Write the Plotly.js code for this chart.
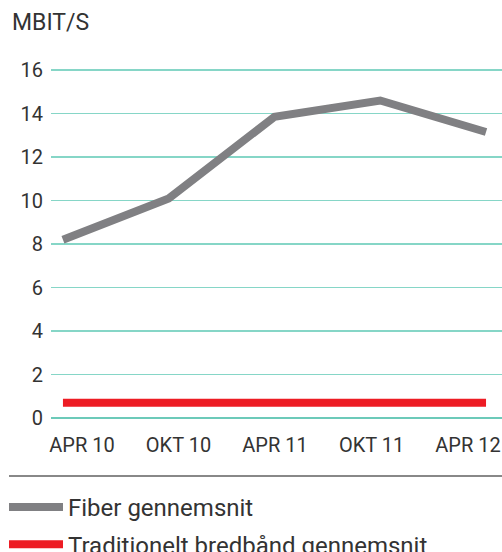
<!DOCTYPE html>
<html><head><meta charset="utf-8">
<script src="https://cdn.plot.ly/plotly-3.0.1.min.js"></script>
<style>html,body{margin:0;padding:0;background:#fff}#c{width:502px;height:552px}</style>
</head><body><div id="c"></div>
<script>
const periods = ["APR 10", "OKT 10", "APR 11", "OKT 11", "APR 12"];
const fiber = [8.2, 10.1, 13.85, 14.6, 13.15];
const traditionel = [0.7, 0.7, 0.7, 0.7, 0.7];
const yTicks = [0, 2, 4, 6, 8, 10, 12, 14, 16];
const seriesNames = ["Fiber gennemsnit", "Traditionelt bredbånd gennemsnit"];

const FONT = "Roboto, 'DejaVu Sans', sans-serif";
const TXT = "#333";
const data = [
  {x: periods, y: fiber, type: "scatter", mode: "lines", name: seriesNames[0], legendgroup: "a",
   line: {color: "#808083", width: 8}, xaxis: "x", yaxis: "y", hoverinfo: "skip"},
  {x: periods, y: traditionel, type: "scatter", mode: "lines", name: seriesNames[1], legendgroup: "b",
   line: {color: "#ED1C24", width: 8}, xaxis: "x", yaxis: "y", hoverinfo: "skip"},
  {x: periods, y: periods.map(() => null), type: "scatter", mode: "lines",
   showlegend: false, xaxis: "x2", yaxis: "y", hoverinfo: "skip"}
];
const layout = {
  width: 502, height: 552,
  margin: {l: 51, r: 0, t: 57, b: 134, autoexpand: false},
  paper_bgcolor: "#fff", plot_bgcolor: "#fff",
  font: {family: FONT, size: 20, color: TXT},
  title: {text: "MBIT/S", x: 12/502, xanchor: "left", xref: "container",
          y: 1 - 22/552, yanchor: "middle", yref: "container",
          font: {family: FONT, size: 23, color: TXT}},
  xaxis: {type: "category", range: [-0.113, 4.151], showticklabels: false,
          showgrid: false, zeroline: false, showline: false, ticks: ""},
  xaxis2: {type: "category", overlaying: "x", side: "bottom", range: [-0.321, 4.352],
           showgrid: false, zeroline: false, showline: false, ticks: "", tickangle: 0,
           ticklabelstandoff: 13,
           tickfont: {family: FONT, size: 20, color: TXT}},
  yaxis: {range: [0, 16.6], tickvals: yTicks, ticktext: yTicks.map(String),
          showgrid: true, gridcolor: "#86d6c7", gridwidth: 1.2,
          zeroline: true, zerolinecolor: "#6ccab9", zerolinewidth: 1.5,
          ticks: "", ticklabelstandoff: 7, showline: false,
          tickfont: {family: FONT, size: 20, color: TXT}},
  showlegend: true,
  legend: {orientation: "v", x: 4/502, xref: "container", xanchor: "left",
           y: 1 - 485/552, yref: "container", yanchor: "top",
           font: {family: FONT, size: 24, color: TXT},
           tracegroupgap: 3, itemwidth: 54, bgcolor: "rgba(0,0,0,0)"},
  shapes: [{type: "line", xref: "paper", yref: "paper",
            x0: (9-51)/451, x1: 1, y0: (418-476)/361, y1: (418-476)/361,
            line: {color: "#888", width: 2}}]
};
Plotly.newPlot("c", data, layout, {displayModeBar: false, staticPlot: true});
</script>
</body></html>
